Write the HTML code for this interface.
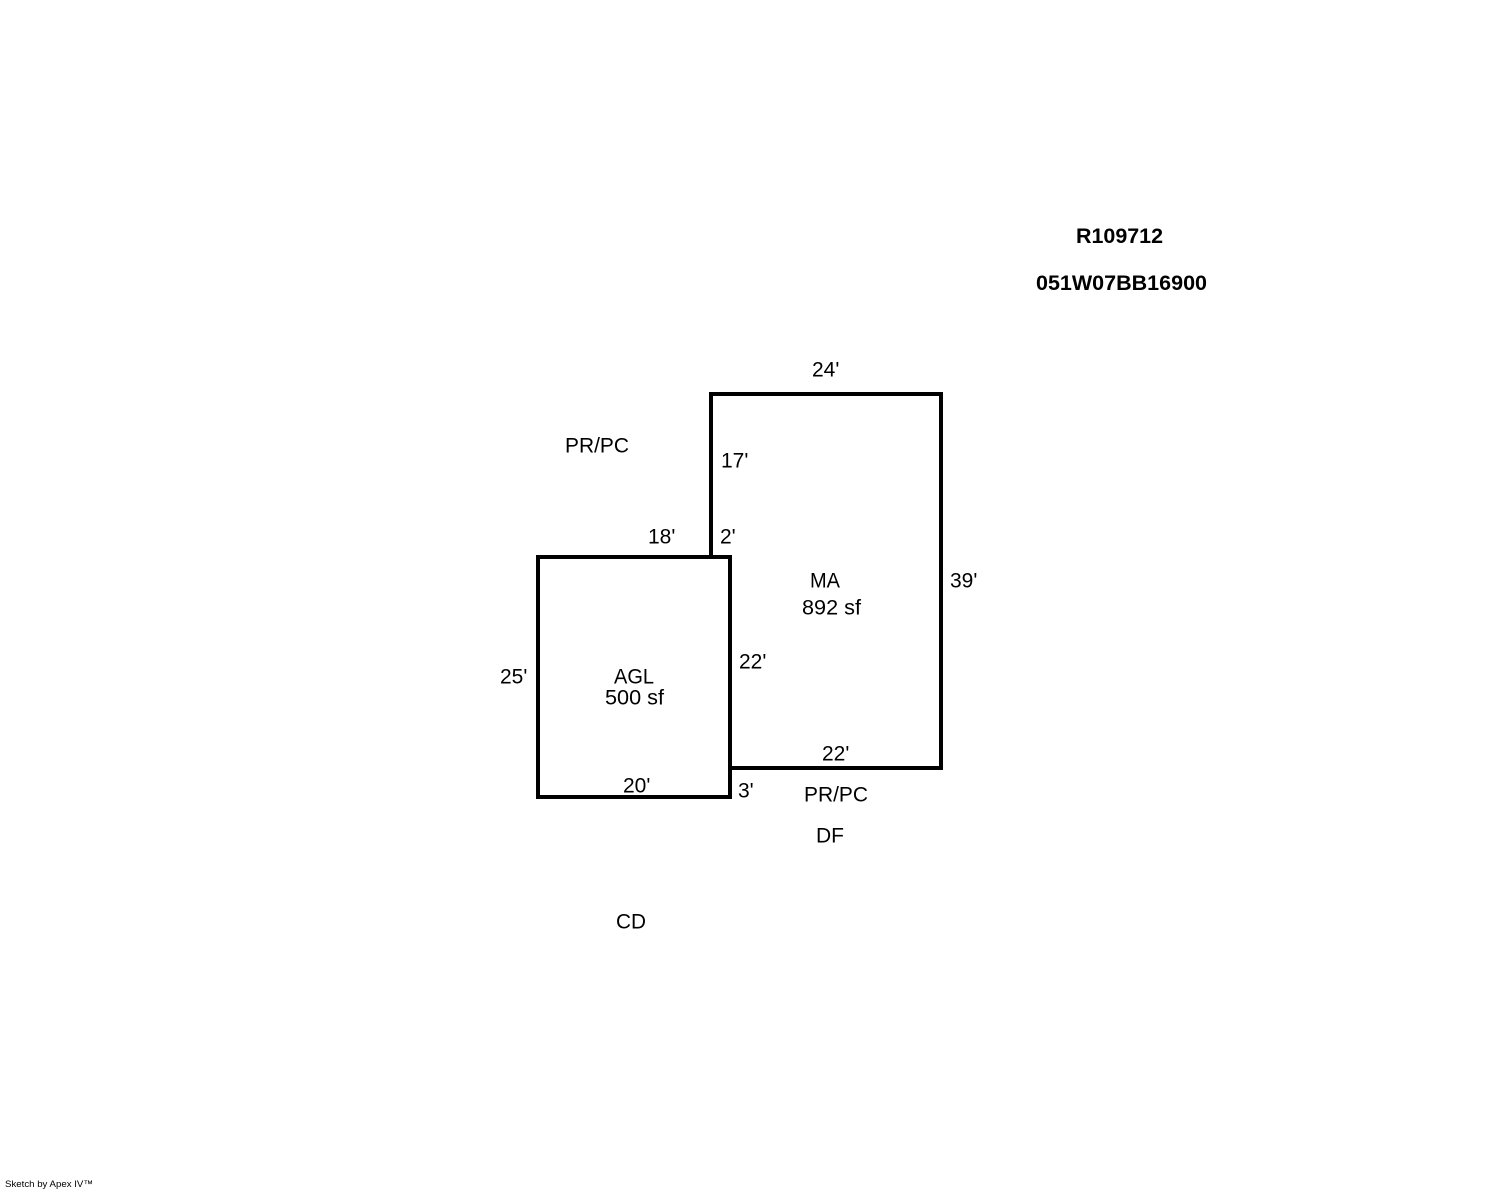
<!DOCTYPE html>
<html><head><meta charset="utf-8"><style>
html,body{margin:0;padding:0;background:#fff}
#p{position:relative;width:1488px;height:1190px;overflow:hidden;background:#fff}
svg{position:absolute;left:0;top:0}
text{font-family:"Liberation Sans",Arial,sans-serif;font-size:21px;fill:#000}
.b{font-weight:bold;font-size:21.4px}
</style></head><body><div id="p">
<svg width="1488" height="1190" viewBox="0 0 1488 1190">
<path d="M711 557V394H941V768H730" fill="none" stroke="#000" stroke-width="4" stroke-linecap="square"/>
<rect x="538" y="557" width="192" height="240" fill="none" stroke="#000" stroke-width="4"/>
<text class="b" x="1076" y="243" textLength="87" lengthAdjust="spacingAndGlyphs">R109712</text>
<text class="b" x="1036" y="290" textLength="171" lengthAdjust="spacingAndGlyphs">051W07BB16900</text>
<text x="812" y="376.5">24'</text>
<text x="565" y="452.5" textLength="64" lengthAdjust="spacingAndGlyphs">PR/PC</text>
<text x="721" y="467.5">17'</text>
<text x="648" y="543.5">18'</text>
<text x="720" y="543.5">2'</text>
<text x="810" y="587.5" textLength="30" lengthAdjust="spacingAndGlyphs">MA</text>
<text x="950" y="587.5">39'</text>
<text x="802" y="614.5" textLength="59" lengthAdjust="spacingAndGlyphs">892 sf</text>
<text x="739" y="668.5">22'</text>
<text x="500" y="683.5">25'</text>
<text x="614" y="683.5" textLength="40" lengthAdjust="spacingAndGlyphs">AGL</text>
<text x="605" y="704.5" textLength="59" lengthAdjust="spacingAndGlyphs">500 sf</text>
<text x="822" y="760.5">22'</text>
<text x="623" y="792.5">20'</text>
<text x="738" y="797.5">3'</text>
<text x="804" y="801.5" textLength="64" lengthAdjust="spacingAndGlyphs">PR/PC</text>
<text x="816" y="842.5" textLength="28" lengthAdjust="spacingAndGlyphs">DF</text>
<text x="616" y="928.5" textLength="30" lengthAdjust="spacingAndGlyphs">CD</text>
<text x="5" y="1187" style="font-size:9.5px" textLength="88" lengthAdjust="spacingAndGlyphs">Sketch by Apex IV™</text>
</svg>
</div></body></html>
